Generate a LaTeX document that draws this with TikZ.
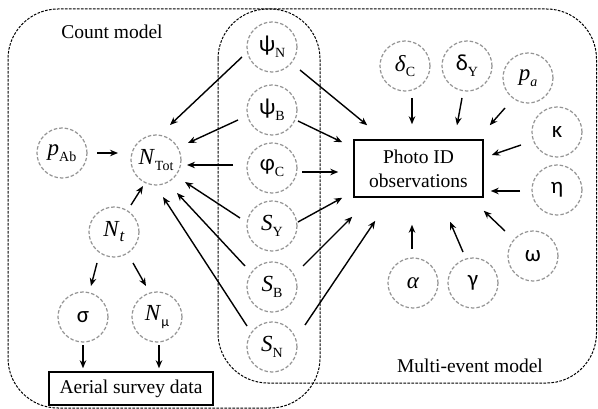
\documentclass[tikz,border=0pt]{standalone}
\usepackage{fontspec}
\setmainfont{Liberation Serif}
\newfontfamily\gkfont{Carlito}
\usetikzlibrary{arrows.meta}
\newcommand\sbs[1]{\raisebox{-0.25em}{\fontsize{14}{14}\selectfont #1}}
\newcommand\sbt[1]{\raisebox{-0.22em}{\fontsize{17}{17}\selectfont #1}}
\begin{document}
\begin{tikzpicture}[x=1pt,y=-1pt,
  var/.style={circle, draw=black!42, dash pattern=on 3.5pt off 2pt, line width=1.2pt,
    minimum size=50pt, inner sep=0pt, font=\fontsize{23}{23}\selectfont},
  obsbox/.style={draw=black, line width=1.5pt, inner sep=0pt,
    font=\fontsize{19.5}{24}\selectfont, align=center},
  region/.style={draw=black, line width=1pt, dash pattern=on 2.6pt off 1.4pt, rounded corners=50pt},
  arr/.style={-{Stealth[length=8pt,width=6.5pt]}, line width=1.4pt},
  title/.style={font=\fontsize{19.5}{22}\selectfont, inner sep=0pt}
]
\useasboundingbox (0,0) rectangle (598,409);
\fill[white] (0,0) rectangle (598,409);

% regions
\draw[region] (8,9) rectangle (320,408);
\draw[region] (218,9) rectangle (596.5,383);

\node[title] (cm) at (112,32) {Count model};
\node[title] (me) at (470,366) {Multi-event model};

% middle column
\node[var] (psiN) at (272,47)  {{\gkfont ψ}\sbs{N}};
\node[var] (psiB) at (272,110) {{\gkfont ψ}\sbs{B}};
\node[var] (phiC) at (272,168) {{\gkfont φ}\sbs{C}};
\node[var] (SY)   at (272,226) {\textit{S}\sbs{Y}};
\node[var] (SB)   at (272,287) {\textit{S}\sbs{B}};
\node[var] (SN)   at (272,347) {\textit{S}\sbs{N}};

% count model
\node[var] (pAb)  at (62,153)  {\textit{p}\sbs{Ab}};
\node[var] (NTot) at (156,160) {\textit{N}\sbs{Tot}};
\node[var] (Nt)   at (114,232) {\textit{N}\sbt{\textit{t}}};
\node[var] (sig)  at (83,317)  {{\gkfont σ}};
\node[var] (Nmu)  at (157,317) {\textit{N}\sbs{\gkfont μ}};
\node[obsbox, minimum width=164pt, minimum height=33pt] (aerial) at (131,388.5) {Aerial survey data};

% multi-event model
\node[obsbox, minimum width=129pt, minimum height=57pt] (photo) at (418.5,168.5) {Photo ID\\observations};
\node[var] (dC)  at (405,66)  {\textit{δ}\sbs{C}};
\node[var] (dY)  at (467,66)  {{\gkfont δ}\sbs{Y}};
\node[var] (pa)  at (528,78)  {\textit{p}\sbs{\textit{a}}};
\node[var] (kap) at (557,132) {{\gkfont κ}};
\node[var] (eta) at (557,190) {{\gkfont η}};
\node[var] (omg) at (533,256) {{\gkfont ω}};
\node[var] (alp) at (413,283) {\textit{α}};
\node[var] (gam) at (473,283) {{\gkfont γ}};

% arrows into N_Tot
\draw[arr] ([shift={(-30,10)}]psiN.center) -- ([shift={(14,-35)}]NTot.center);
\draw[arr] ([shift={(-34,10)}]psiB.center) -- ([shift={(32,-17)}]NTot.center);
\draw[arr] ([shift={(-39,-3)}]phiC.center) -- ([shift={(31,5)}]NTot.center);
\draw[arr] ([shift={(-32,-8)}]SY.center) -- ([shift={(29,22)}]NTot.center);
\draw[arr] ([shift={(-27,-21)}]SB.center) -- ([shift={(21,33)}]NTot.center);
\draw[arr] ([shift={(-25,-21)}]SN.center) -- ([shift={(7,37)}]NTot.center);
\draw[arr] ([shift={(35,0)}]pAb.center) -- ([shift={(-38,-7)}]NTot.center);
\draw[arr] ([shift={(17,-27)}]Nt.center) -- ([shift={(-13,26)}]NTot.center);

% count model lower part
\draw[arr] ([shift={(-17,31)}]Nt.center) -- ([shift={(8,-31)}]sig.center);
\draw[arr] ([shift={(19,31)}]Nt.center) -- ([shift={(-11,-31)}]Nmu.center);
\draw[arr] ([shift={(0,28)}]sig.center) -- ([shift={(-48,-3)}]aerial.north);
\draw[arr] ([shift={(2,28)}]Nmu.center) -- ([shift={(28,-3)}]aerial.north);

% arrows into photo ID box from the middle column
\draw[arr] ([shift={(28,23)}]psiN.center) -- ([shift={(14,-14)}]photo.north west);
\draw[arr] ([shift={(26,11)}]psiB.center) -- ([shift={(-11,3)}]photo.north west);
\draw[arr] ([shift={(30,4)}]phiC.center) -- ([shift={(-15,3.5)}]photo.west);
\draw[arr] ([shift={(26,-4)}]SY.center) -- ([shift={(-11,0)}]photo.south west);
\draw[arr] ([shift={(31,-21)}]SB.center) -- ([shift={(-1,19)}]photo.south west);
\draw[arr] ([shift={(33,-22)}]SN.center) -- ([shift={(22,23)}]photo.south west);

% arrows into photo ID box from the right
\draw[arr] ([shift={(7,32)}]dC.center) -- ([shift={(-6.5,-15)}]photo.north);
\draw[arr] ([shift={(-5,32)}]dY.center) -- ([shift={(38.5,-14)}]photo.north);
\draw[arr] ([shift={(-23,30)}]pa.center) -- ([shift={(6,-14)}]photo.north east);
\draw[arr] ([shift={(-36,13)}]kap.center) -- ([shift={(8,-13.5)}]photo.east);
\draw[arr] ([shift={(-37,1)}]eta.center) -- ([shift={(7,22.5)}]photo.east);
\draw[arr] ([shift={(-28,-25)}]omg.center) -- ([shift={(0,13)}]photo.south east);
\draw[arr] ([shift={(-10,-31)}]gam.center) -- ([shift={(31.5,24)}]photo.south);
\draw[arr] ([shift={(-1,-34)}]alp.center) -- ([shift={(-6.5,27)}]photo.south);
\end{tikzpicture}
\end{document}
